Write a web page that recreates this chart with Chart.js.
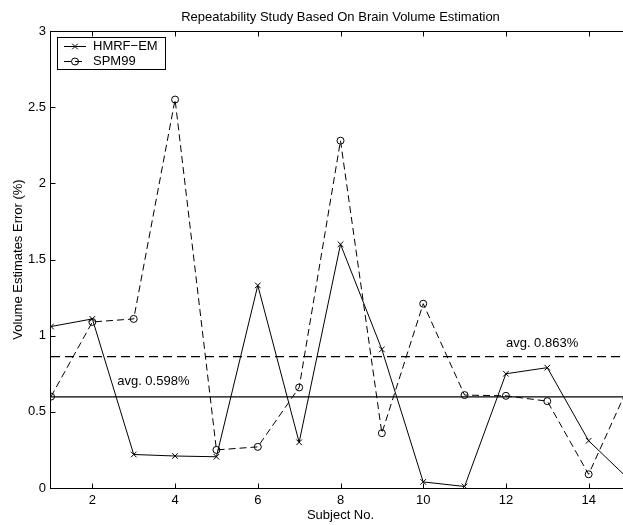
<!DOCTYPE html>
<html>
<head>
<meta charset="utf-8">
<title>Repeatability Study</title>
<script src="https://cdn.jsdelivr.net/npm/chart.js@4.4.1/dist/chart.umd.min.js"></script>
<style>
    html, body { margin: 0; padding: 0; background: #fff; overflow: hidden; }
    #wrap { width: 645px; height: 525px; }
</style>
</head>
<body>
<div id="wrap"><canvas id="chart" width="645" height="525"></canvas></div>
<script>
// Data
const subjects = [1, 2, 3, 4, 5, 6, 7, 8, 9, 10, 11, 12, 13, 14, 15];
const hmrfEm = [1.06, 1.11, 0.22, 0.21, 0.205, 1.33, 0.30, 1.60, 0.91, 0.04, 0.01, 0.75, 0.79, 0.31, 0.05];
const spm99 = [0.60, 1.09, 1.11, 2.55, 0.25, 0.27, 0.66, 2.28, 0.36, 1.21, 0.61, 0.605, 0.57, 0.09, 0.69];
const seriesNames = ['HMRF\u2212EM', 'SPM99'];
const averages = [0.598, 0.863];
const xTickValues = [2, 4, 6, 8, 10, 12, 14];
const yTickValues = [0, 0.5, 1, 1.5, 2, 2.5, 3];

const FONT = '"Liberation Sans", Arial, Helvetica, sans-serif';
Chart.defaults.font.family = FONT;
Chart.defaults.font.size = 13;
Chart.defaults.color = '#000';

const dataDash = [7, 4];
const avgDash = [9, 5];

function toPoints(values) {
    return subjects.map((s, i) => ({ x: s, y: values[i] }));
}

// axes box, inward ticks, titles, legend and avg labels
const matlabFrame = {
    id: 'matlabFrame',
    afterDatasetsDraw(chart) {
        const { ctx, chartArea: a, scales: { x, y } } = chart;
        ctx.save();
        ctx.strokeStyle = '#000';
        ctx.lineWidth = 1;
        ctx.setLineDash([]);

        const L = Math.round(a.left) - 0.5, R = Math.round(a.right) - 0.5;
        const T = Math.round(a.top) + 0.5, B = Math.round(a.bottom) + 0.5;
        ctx.strokeRect(L, T, R - L, B - T);

        const tick = 5;
        ctx.beginPath();
        xTickValues.forEach(v => {
            const p = Math.round(x.getPixelForValue(v)) + 0.5;
            ctx.moveTo(p, B); ctx.lineTo(p, B - tick);
            ctx.moveTo(p, T); ctx.lineTo(p, T + tick);
        });
        yTickValues.forEach(v => {
            const p = Math.round(y.getPixelForValue(v)) + 0.5;
            ctx.moveTo(L, p); ctx.lineTo(L + tick, p);
            ctx.moveTo(R, p); ctx.lineTo(R - tick, p);
        });
        ctx.stroke();

        ctx.fillStyle = '#000';
        ctx.font = '13px ' + FONT;
        ctx.textAlign = 'center';
        ctx.textBaseline = 'middle';
        const cx = (a.left + a.right) / 2;
        ctx.fillText('Repeatability Study Based On Brain Volume Estimation', cx, 17);
        ctx.fillText('Subject No.', cx, 515);
        ctx.save();
        ctx.translate(18, (a.top + a.bottom) / 2);
        ctx.rotate(-Math.PI / 2);
        ctx.fillText('Volume Estimates Error (%)', 0, 0);
        ctx.restore();

        // avg labels, anchored in data units
        const labelAt = [[2.6, 0.697], [12, 0.947]];
        ctx.textAlign = 'left';
        averages.forEach((v, i) => {
            ctx.fillText('avg. ' + v.toFixed(3) + '%',
                x.getPixelForValue(labelAt[i][0]), y.getPixelForValue(labelAt[i][1]));
        });

        // legend
        ctx.fillStyle = '#fff';
        ctx.fillRect(57.5, 37.5, 108, 32);
        ctx.strokeRect(57.5, 37.5, 108, 32);
        const rows = [46, 61];
        chart.data.datasets.slice(0, 2).forEach((ds, i) => {
            const ry = rows[i] + 0.5;
            ctx.setLineDash(ds.borderDash || []);
            ctx.beginPath();
            ctx.moveTo(64, ry); ctx.lineTo(86, ry);
            ctx.stroke();
            ctx.setLineDash([]);
            ctx.beginPath();
            if (ds.pointStyle === 'circle') {
                ctx.arc(75, ry, ds.pointRadius, 0, Math.PI * 2);
            } else {
                const d = ds.pointRadius * Math.SQRT1_2;
                ctx.moveTo(75 - d, ry - d); ctx.lineTo(75 + d, ry + d);
                ctx.moveTo(75 - d, ry + d); ctx.lineTo(75 + d, ry - d);
            }
            ctx.stroke();
            ctx.fillStyle = '#000';
            ctx.fillText(ds.label, 93, ry);
        });
        ctx.restore();
    }
};

const ctx = document.getElementById('chart').getContext('2d');
new Chart(ctx, {
    type: 'line',
    data: {
        datasets: [
            {
                label: seriesNames[0],
                data: toPoints(hmrfEm),
                borderColor: '#000',
                borderWidth: 1,
                pointStyle: 'crossRot',
                pointRadius: 4,
                pointBorderColor: '#000',
                pointBorderWidth: 1,
                tension: 0
            },
            {
                label: seriesNames[1],
                data: toPoints(spm99),
                borderColor: '#000',
                borderWidth: 1,
                borderDash: dataDash,
                pointStyle: 'circle',
                pointRadius: 3.5,
                pointBackgroundColor: 'rgba(0,0,0,0)',
                pointBorderColor: '#000',
                pointBorderWidth: 1,
                tension: 0
            },
            {
                label: 'avg ' + seriesNames[0],
                data: toPoints(subjects.map(() => averages[0])),
                borderColor: '#000',
                borderWidth: 1.2,
                pointRadius: 0
            },
            {
                label: 'avg ' + seriesNames[1],
                data: toPoints(subjects.map(() => averages[1])),
                borderColor: '#000',
                borderWidth: 1.2,
                borderDash: avgDash,
                pointRadius: 0
            }
        ]
    },
    options: {
        responsive: false,
        animation: false,
        events: [],
        layout: { padding: { top: 31, right: 15, bottom: 0, left: 0 } },
        plugins: {
            legend: { display: false },
            tooltip: { enabled: false },
            title: { display: false }
        },
        scales: {
            x: {
                type: 'linear',
                min: 1,
                max: 15,
                grid: { display: false, drawTicks: false },
                border: { display: false },
                afterBuildTicks: s => { s.ticks = xTickValues.map(v => ({ value: v })); },
                afterFit: s => { s.height = 37; },
                ticks: { color: '#000', padding: 5, maxRotation: 0, autoSkip: false, callback: v => String(v) }
            },
            y: {
                type: 'linear',
                min: 0,
                max: 3,
                grid: { display: false, drawTicks: false },
                border: { display: false },
                afterBuildTicks: s => { s.ticks = yTickValues.map(v => ({ value: v })); },
                afterFit: s => { s.width = 51; },
                ticks: { color: '#000', padding: 5, autoSkip: false, callback: v => String(v) }
            }
        }
    },
    plugins: [matlabFrame]
});
</script>
</body>
</html>
